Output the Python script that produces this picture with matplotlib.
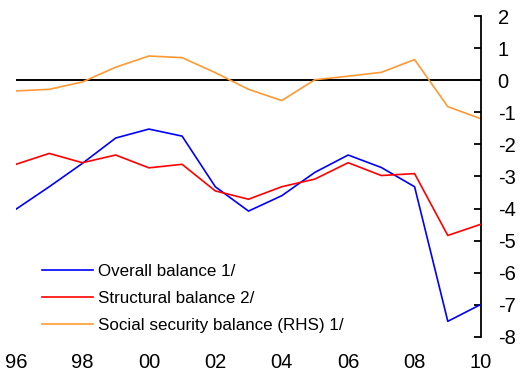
import matplotlib
matplotlib.use("Agg")
import matplotlib.pyplot as plt

plt.rcParams["font.family"] = ["Liberation Sans", "DejaVu Sans"]

years = list(range(1996, 2011))
overall = [-4.02, -3.32, -2.59, -1.80, -1.52, -1.74, -3.32, -4.08,
           -3.60, -2.87, -2.33, -2.72, -3.32, -7.52, -6.99]
structural = [-2.62, -2.28, -2.57, -2.33, -2.73, -2.62, -3.45, -3.71,
              -3.32, -3.08, -2.57, -2.97, -2.91, -4.84, -4.49]
social_security = [-0.33, -0.28, -0.05, 0.41, 0.76, 0.71, 0.24, -0.28,
                   -0.63, 0.02, 0.13, 0.25, 0.65, -0.82, -1.20]

xticks = list(range(1996, 2011, 2))
xlabels = ["96", "98", "00", "02", "04", "06", "08", "10"]
yticks = list(range(-8, 3))

fig = plt.figure(figsize=(5.22, 3.70), dpi=100)
ax = fig.add_axes([0.0307, 0.09, 0.8908, 0.866])

ax.axhline(0, color="black", lw=1.4, zorder=1)
ax.plot(years, overall, color="#0000ff", lw=1.2, label="Overall balance 1/", zorder=3)
ax.plot(years, structural, color="#ff0000", lw=1.2, label="Structural balance 2/", zorder=3)
ax.plot(years, social_security, color="#ff9933", lw=1.2,
        label="Social security balance (RHS) 1/", zorder=2)

ax.set_xlim(1996, 2010)
ax.set_ylim(-8, 2)

for side in ("top", "left", "bottom"):
    ax.spines[side].set_visible(False)
ax.spines["right"].set_linewidth(1.3)

ax.yaxis.tick_right()
ax.set_yticks(yticks)
ax.set_yticklabels([str(t) for t in yticks])
ax.tick_params(axis="y", direction="in", length=5, width=1.3, pad=12, labelsize=14.5)

ax.set_xticks(xticks)
ax.set_xticklabels(xlabels)
ax.tick_params(axis="x", length=0, pad=12, labelsize=14.5)

ax.legend(loc="lower left", bbox_to_anchor=(0.024, -0.037), frameon=False,
          fontsize=12.25, handlelength=2.95, handletextpad=0.3, labelspacing=0.7)

fig.savefig("out.png", dpi=100)
